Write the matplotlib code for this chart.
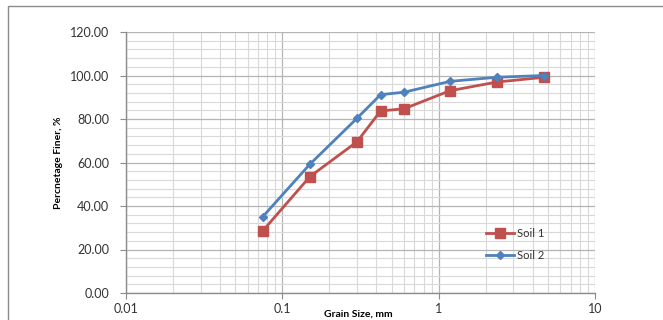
import matplotlib
matplotlib.use('Agg')
import matplotlib.pyplot as plt
from matplotlib.patches import Rectangle
from matplotlib.ticker import LogLocator, FixedLocator, NullFormatter

plt.rcParams['font.family'] = ['Lato', 'DejaVu Sans']

grain_size = [0.075, 0.15, 0.3, 0.425, 0.6, 1.18, 2.36, 4.75]
soil_1 = [28.6, 53.5, 69.5, 83.7, 84.7, 93.0, 97.0, 99.2]
soil_2 = [35.1, 59.2, 80.3, 91.2, 92.3, 97.3, 99.2, 100.0]
x_ticks = [0.01, 0.1, 1, 10]
x_tick_labels = ['0.01', '0.1', '1', '10']
y_ticks = [0, 20, 40, 60, 80, 100, 120]

RED = '#C0504D'
BLUE = '#4F81BD'

fig = plt.figure(figsize=(6.63, 3.2), dpi=100)
ax = fig.add_axes([126 / 663, 1 - 293 / 320, (595 - 126) / 663, (293 - 32) / 320])

# chart area border (cropped on the right and bottom)
fig.patches.append(Rectangle((8 / 663, -0.1), 1.2, 1 - 6 / 320 + 0.1, transform=fig.transFigure,
                             fill=False, edgecolor='#8c8c8c', linewidth=1.0))

ax.plot(grain_size, soil_1, color=RED, linewidth=2, marker='s', markersize=7.5,
        markerfacecolor=RED, markeredgecolor=RED, label='Soil 1', zorder=3)
ax.plot(grain_size, soil_2, color=BLUE, linewidth=2, marker='D', markersize=4.5,
        markerfacecolor=BLUE, markeredgecolor=BLUE, label='Soil 2', zorder=3)

ax.set_xscale('log')
ax.set_xlim(0.01, 10)
ax.set_ylim(0, 120)

ax.xaxis.set_major_locator(FixedLocator(x_ticks))
ax.set_xticklabels(x_tick_labels)
ax.xaxis.set_minor_locator(LogLocator(base=10, subs=range(2, 10)))
ax.xaxis.set_minor_formatter(NullFormatter())
ax.set_yticks(y_ticks)
ax.set_yticklabels([f'{v:.2f}' for v in y_ticks])
ax.yaxis.set_minor_locator(FixedLocator([v for v in range(0, 121, 4) if v % 20]))

ax.grid(which='major', color='#b4b4b4', linewidth=0.9)
ax.grid(which='minor', color='#d9d9d9', linewidth=0.8)
ax.set_axisbelow(True)

for side in ['top', 'right']:
    ax.spines[side].set_visible(False)
for side in ['left', 'bottom']:
    ax.spines[side].set_color('#8c8c8c')
    ax.spines[side].set_linewidth(1.0)

ax.tick_params(axis='both', which='major', length=4, color='#8c8c8c', labelsize=9, labelcolor='#333333')
ax.tick_params(axis='x', which='major', pad=3)
ax.tick_params(axis='y', which='major', pad=8)
ax.tick_params(which='minor', length=0)

ax.set_xlabel('Grain Size, mm', fontsize=7.5, fontweight='bold')
ax.xaxis.set_label_coords(0.495, -0.062)
ax.set_ylabel('Percnetage Finer, %', fontsize=7.5, fontweight='bold', labelpad=5)

ax.legend(loc='upper left', bbox_to_anchor=(0.75, 0.28), frameon=False, fontsize=8,
          handlelength=2.6, labelspacing=1.05, handletextpad=0.2, borderpad=0.2,
          labelcolor='#333333')

fig.savefig('out.png', dpi=100)
